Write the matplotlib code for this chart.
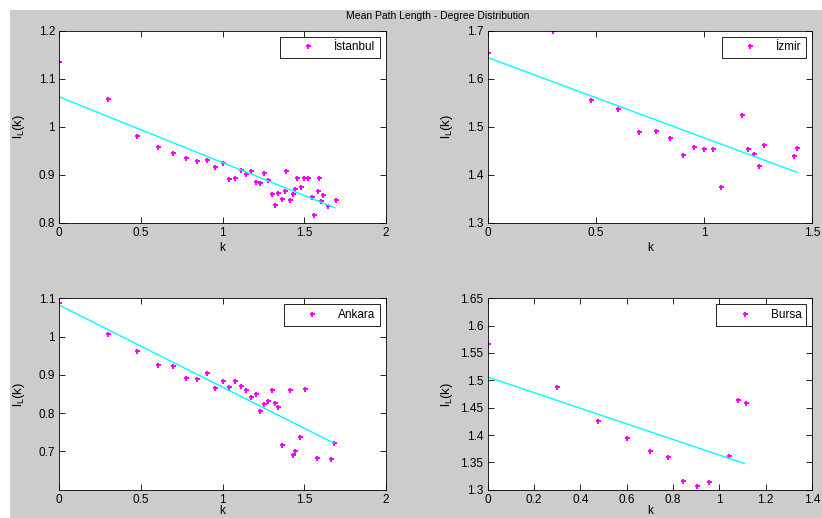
import matplotlib
matplotlib.use("Agg")
import matplotlib.pyplot as plt
from matplotlib.patches import Rectangle
from matplotlib.ticker import FormatStrFormatter

plt.rcParams["font.family"] = ["Liberation Sans", "DejaVu Sans"]
plt.rcParams["mathtext.fontset"] = "custom"
plt.rcParams["mathtext.rm"] = "Liberation Sans"

# ── data (k on log scale, mean path length) ──────────────────────────────────
ist_k = [0, 0.301, 0.477, 0.602, 0.699, 0.778, 0.845, 0.903, 0.954, 1.0,
         1.041, 1.079, 1.114, 1.146, 1.176, 1.204, 1.230, 1.255, 1.279, 1.301,
         1.322, 1.342, 1.362, 1.380, 1.391, 1.415, 1.431, 1.447, 1.455, 1.483,
         1.499, 1.524, 1.548, 1.559, 1.583, 1.593, 1.605, 1.618, 1.646, 1.694]
ist_l = [1.135, 1.057, 0.980, 0.958, 0.946, 0.935, 0.929, 0.931, 0.916, 0.924,
         0.892, 0.894, 0.909, 0.902, 0.907, 0.885, 0.883, 0.904, 0.889, 0.860,
         0.836, 0.862, 0.849, 0.867, 0.907, 0.847, 0.860, 0.870, 0.893, 0.874,
         0.893, 0.894, 0.853, 0.815, 0.865, 0.893, 0.845, 0.858, 0.834, 0.847]
ist_fit_k = [0, 1.689]
ist_fit_l = [1.062, 0.831]

izm_k = [0, 0.301, 0.477, 0.602, 0.699, 0.778, 0.845, 0.903, 0.954, 1.0,
         1.041, 1.079, 1.176, 1.204, 1.230, 1.255, 1.279, 1.415, 1.431]
izm_l = [1.653, 1.699, 1.555, 1.537, 1.489, 1.491, 1.476, 1.442, 1.458, 1.454,
         1.454, 1.374, 1.524, 1.453, 1.443, 1.418, 1.462, 1.440, 1.456]
izm_fit_k = [0, 1.431]
izm_fit_l = [1.644, 1.405]

ank_k = [0, 0.301, 0.477, 0.602, 0.699, 0.778, 0.845, 0.903, 0.954, 1.0,
         1.041, 1.079, 1.114, 1.146, 1.176, 1.204, 1.230, 1.255, 1.279, 1.301,
         1.322, 1.342, 1.362, 1.415, 1.431, 1.447, 1.477, 1.505, 1.580, 1.663,
         1.681]
ank_l = [1.0885, 1.006, 0.963, 0.926, 0.924, 0.892, 0.890, 0.905, 0.866, 0.883,
         0.869, 0.883, 0.872, 0.860, 0.842, 0.849, 0.805, 0.824, 0.832, 0.860,
         0.826, 0.817, 0.718, 0.860, 0.691, 0.700, 0.737, 0.862, 0.683, 0.679,
         0.721]
ank_fit_k = [0, 1.681]
ank_fit_l = [1.082, 0.722]

bur_k = [0, 0.301, 0.477, 0.602, 0.699, 0.778, 0.845, 0.903, 0.954, 1.041,
         1.079, 1.114]
bur_l = [1.566, 1.488, 1.425, 1.395, 1.370, 1.359, 1.316, 1.306, 1.314, 1.362,
         1.464, 1.459]
bur_fit_k = [0, 1.108]
bur_fit_l = [1.506, 1.348]

W, H = 822, 518
fig = plt.figure(figsize=(W / 100, H / 100), dpi=100, facecolor="white")
fig.patches.append(Rectangle((10 / W, 0), 1, 1 - 10 / H, transform=fig.transFigure,
                             facecolor="#cccccc", edgecolor="none", zorder=-10))


def panel(rect, k, l, fk, fl, name, xlim, xticks, ylim, yticks, klab_y=-0.1):
    ax = fig.add_axes([rect[0] / W, 1 - rect[3] / H,
                       (rect[2] - rect[0]) / W, (rect[3] - rect[1]) / H])
    ax.plot(k, l, ls="none", marker="P", ms=3.6, mew=0, color="#ff00ff", label=name)
    ax.plot(fk, fl, color="#00ffff", lw=1.0)
    ax.set_xlim(*xlim)
    ax.set_ylim(*ylim)
    ax.set_xticks(xticks)
    ax.set_yticks(yticks)
    ax.xaxis.set_major_formatter(FormatStrFormatter("%g"))
    ax.yaxis.set_major_formatter(FormatStrFormatter("%g"))
    ax.tick_params(direction="in", top=True, right=True, length=4, width=0.6,
                   labelsize=8.5, pad=3)
    for s in ax.spines.values():
        s.set_linewidth(0.6)
    ax.set_xlabel("k", fontsize=8.5)
    ax.set_ylabel("l$_\\mathrm{L}$(k)", fontsize=9.5)
    ax.xaxis.set_label_coords(0.5, klab_y)
    ax.yaxis.set_label_coords(-0.1, 0.5)
    leg = ax.legend(loc="upper right", fontsize=8.5, fancybox=False, framealpha=1,
                    edgecolor="black", numpoints=1, handlelength=4.0,
                    handletextpad=0.2, borderpad=0.4, borderaxespad=0.5)
    leg.get_frame().set_linewidth(0.6)
    return ax


panel((59.3, 30.7, 385.7, 222.7), ist_k, ist_l, ist_fit_k, ist_fit_l, "İstanbul",
      (0, 2), [0, 0.5, 1, 1.5, 2], (0.8, 1.2), [0.8, 0.9, 1.0, 1.1, 1.2])
panel((487.7, 30.7, 812, 222.7), izm_k, izm_l, izm_fit_k, izm_fit_l, "İzmir",
      (0, 1.5), [0, 0.5, 1, 1.5], (1.3, 1.7), [1.3, 1.4, 1.5, 1.6, 1.7])
panel((59.3, 298.3, 385.7, 489.7), ank_k, ank_l, ank_fit_k, ank_fit_l, "Ankara",
      (0, 2), [0, 0.5, 1, 1.5, 2], (0.6, 1.1), [0.7, 0.8, 0.9, 1.0, 1.1],
      klab_y=-0.08)
panel((487.7, 298.3, 812, 489.7), bur_k, bur_l, bur_fit_k, bur_fit_l, "Bursa",
      (0, 1.4), [0, 0.2, 0.4, 0.6, 0.8, 1.0, 1.2, 1.4], (1.3, 1.65),
      [1.3, 1.35, 1.4, 1.45, 1.5, 1.55, 1.6, 1.65], klab_y=-0.08)

fig.text(437.6 / W, 1 - 16 / H, "Mean Path Length - Degree Distribution",
         ha="center", va="center", fontsize=7.5)

fig.savefig("out.png", dpi=100, facecolor=fig.get_facecolor())
